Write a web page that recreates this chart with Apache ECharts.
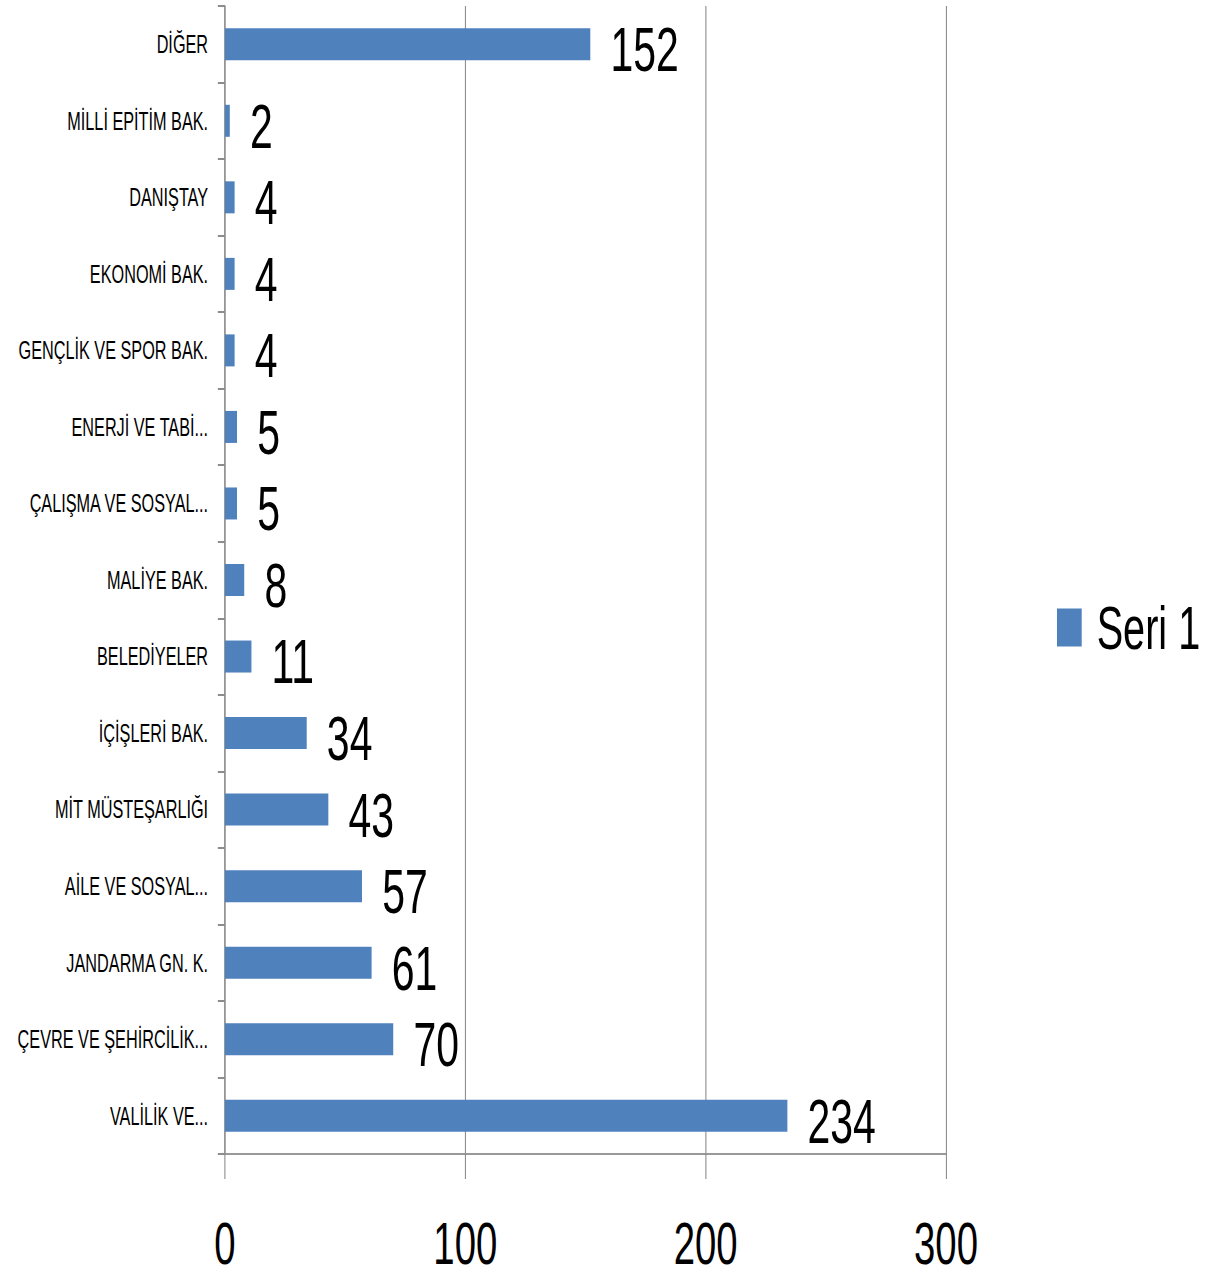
<!DOCTYPE html>
<html>
<head>
<meta charset="utf-8">
<script src="https://cdn.jsdelivr.net/npm/echarts@6/dist/echarts.min.js"></script>
<style>
html, body { margin: 0; padding: 0; background: #fff; overflow: hidden; }
#chart { height: 1280px; transform-origin: 0 0; }
</style>
</head>
<body>
<div id="chart"></div>
<script>
// bottom to top, as in the picture
const categories = [
  "VALİLİK VE...",
  "ÇEVRE VE ŞEHİRCİLİK...",
  "JANDARMA GN. K.",
  "AİLE VE SOSYAL...",
  "MİT MÜSTEŞARLIĞI",
  "İÇİŞLERİ BAK.",
  "BELEDİYELER",
  "MALİYE BAK.",
  "ÇALIŞMA VE SOSYAL...",
  "ENERJİ VE TABİ...",
  "GENÇLİK VE SPOR BAK.",
  "EKONOMİ BAK.",
  "DANIŞTAY",
  "MİLLİ EPİTİM BAK.",
  "DİĞER"
];
const values = [234, 70, 61, 57, 43, 34, 11, 8, 5, 5, 4, 4, 4, 2, 152];
const seriesName = "Seri 1";
const xTicks = [0, 100, 200, 300];

// the reference text is squeezed sideways; draw wide and squeeze the whole chart
const SCALE = 0.65;
const el = document.querySelector("#chart");
el.style.width = Math.round(1216 / SCALE) + "px";
el.style.transform = `scaleX(${SCALE})`;

const FONT = '"Liberation Sans", Arial, sans-serif';
const chart = echarts.init(el, null, {renderer: "svg"});
chart.setOption({
  animation: false,
  backgroundColor: "#fff",
  textStyle: {fontFamily: FONT},
  grid: {
    left: 225 / SCALE,
    top: 6,
    width: (946 - 225) / SCALE,
    height: 1148,
    containLabel: false
  },
  legend: {
    left: 1057 / SCALE,
    top: 597,
    padding: 0,
    itemWidth: 38,
    itemHeight: 38,
    icon: "rect",
    data: [seriesName],
    textStyle: {fontSize: 61, color: "#000", fontFamily: FONT, padding: [0, 0, 0, 18]}
  },
  xAxis: {
    type: "value",
    min: xTicks[0],
    max: xTicks[xTicks.length - 1],
    interval: 100,
    axisLine: {show: true, lineStyle: {color: "#999", width: 2}},
    axisTick: {show: true, length: 25, lineStyle: {color: "#808080", width: 1.5}},
    splitLine: {show: true, lineStyle: {color: "#808080", width: 1.5}},
    axisLabel: {fontSize: 59, lineHeight: 48, color: "#000", margin: 66, fontFamily: FONT}
  },
  yAxis: {
    type: "category",
    data: categories,
    axisLine: {show: true, lineStyle: {color: "#8c8c8c", width: 2}},
    axisTick: {show: true, length: 11, lineStyle: {color: "#8c8c8c", width: 2}},
    axisLabel: {fontSize: 25, color: "#000", margin: 26, fontFamily: FONT}
  },
  series: [
    {
      name: seriesName,
      type: "bar",
      data: values,
      barWidth: 32,
      itemStyle: {color: "#4F81BD"},
      label: {
        show: true,
        position: "right",
        distance: 31,
        offset: [0, 5],
        fontSize: 63,
        color: "#000",
        fontFamily: FONT
      }
    }
  ]
});
</script>
</body>
</html>
